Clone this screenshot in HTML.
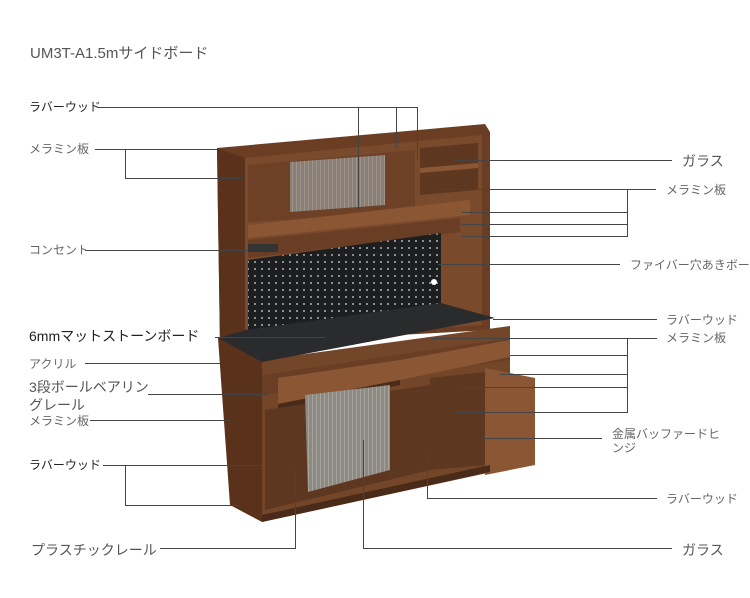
<!DOCTYPE html>
<html><head><meta charset="utf-8"><style>
body{margin:0;background:#fff;}
.w{position:relative;width:750px;height:598px;overflow:hidden;background:#fff;font-family:"Liberation Sans","Noto Sans CJK JP",sans-serif;}
.t{position:absolute;white-space:nowrap;color:#666;font-size:12px;line-height:1;}
.b{color:#222;}
.l{font-size:14px;}
</style></head><body><div class="w">
<svg width="750" height="598" style="position:absolute;left:0;top:0">
<defs>
<pattern id="peg" width="7" height="7" patternUnits="userSpaceOnUse"><rect width="7" height="7" fill="#1c1e20"/><rect x="2" y="2" width="2" height="2" fill="#8a8f92"/></pattern>
<pattern id="gl" width="4" height="4" patternUnits="userSpaceOnUse"><rect width="4" height="4" fill="#8d8a84"/><rect width="1" height="4" fill="#a6a39d"/></pattern>
</defs>
<!-- hutch -->
<polygon points="217,148 485,124 490,132 490,330 220,345" fill="#6b3e24"/>
<polygon points="217,148 245,158 245,340 220,345" fill="#5a321c"/>
<polygon points="245,158 482,135 482,325 245,340" fill="#7a4a2c"/>
<polygon points="248,165 415,150 415,212 248,222" fill="#6e4126"/>
<polygon points="290,162 385,155 385,205 290,212" fill="url(#gl)" opacity="0.85"/>
<polygon points="420,148 478,143 478,190 420,195" fill="#5e3720"/>
<polygon points="420,168 478,163 478,168 420,173" fill="#8a5634"/>
<polygon points="248,225 470,200 470,215 248,238" fill="#8a5634"/>
<polygon points="248,240 460,218 460,232 248,258" fill="#6a3e24"/>
<polygon points="248,260 441,233 441,306 248,332" fill="url(#peg)"/>
<rect x="248" y="244" width="30" height="8" fill="#333"/>
<circle cx="434" cy="282" r="3" fill="#fff"/>
<!-- lower cabinet -->
<polygon points="218,338 262,360 262,522 230,505" fill="#5a321c"/>
<polygon points="262,360 510,326 510,468 262,522" fill="#744629"/>
<!-- counter -->
<polygon points="218,338 246,330 441,303 495,318 262,362" fill="#2a2b2c"/>
<polygon points="262,375 510,338 510,360 262,395" fill="#6a3e24"/>
<polygon points="278,378 400,360 400,380 278,404" fill="#8a5634"/>
<polygon points="400,360 510,340 510,357 400,380" fill="#8a5634"/>
<polygon points="278,404 400,380 400,385 278,410" fill="#4a2a18"/>
<polygon points="265,410 430,385 430,470 265,510" fill="#5e3720"/>
<polygon points="305,395 390,385 390,470 308,492" fill="url(#gl)"/>
<polygon points="430,378 485,372 485,465 430,470" fill="#5e3720"/>
<polygon points="485,368 535,378 535,465 485,475" fill="#8a5634"/>
<polygon points="262,515 490,465 490,472 262,522" fill="#4a2a18"/>
<g stroke="#444" stroke-width="1" fill="none">
<polyline points="98,107.5 417,107.5"/>
<line x1="358.5" y1="107" x2="358.5" y2="210"/>
<line x1="396.5" y1="107" x2="396.5" y2="148"/>
<line x1="417.5" y1="107" x2="417.5" y2="160"/>
<polyline points="95,149.5 217,149.5"/>
<polyline points="125.5,150 125.5,178.5 243,178.5"/>
<line x1="455" y1="160.5" x2="672" y2="160.5"/>
<line x1="435" y1="189.5" x2="656" y2="189.5"/>
<line x1="462" y1="212.5" x2="627" y2="212.5"/>
<line x1="462" y1="224.5" x2="627" y2="224.5"/>
<line x1="462" y1="236.5" x2="627" y2="236.5"/>
<line x1="627.5" y1="189" x2="627.5" y2="237"/>
<line x1="85" y1="250.5" x2="248" y2="250.5"/>
<line x1="438" y1="264.5" x2="620" y2="264.5"/>
<line x1="215" y1="337.5" x2="325" y2="337.5"/>
<line x1="493" y1="319.5" x2="657" y2="319.5"/>
<line x1="432" y1="338.5" x2="657" y2="338.5"/>
<line x1="627.5" y1="338" x2="627.5" y2="413"/>
<line x1="510" y1="355.5" x2="627" y2="355.5"/>
<line x1="500" y1="374.5" x2="627" y2="374.5"/>
<line x1="460" y1="387.5" x2="627" y2="387.5"/>
<line x1="456" y1="412.5" x2="627" y2="412.5"/>
<line x1="85" y1="363.5" x2="220" y2="363.5"/>
<line x1="148" y1="394.5" x2="268" y2="394.5"/>
<line x1="90" y1="420.5" x2="230" y2="420.5"/>
<line x1="103" y1="465.5" x2="262" y2="465.5"/>
<polyline points="125.5,466 125.5,505.5 240,505.5"/>
<line x1="483" y1="438.5" x2="602" y2="438.5"/>
<polyline points="427.5,452 427.5,498.5 657,498.5"/>
<polyline points="160,548.5 295.5,548.5 295.5,467"/>
<polyline points="363.5,440 363.5,548.5 672,548.5"/>
</g>
</svg>
<div class="t" style="left:30px;top:46px;font-size:15px;color:#555">UM3T-A1.5mサイドボード</div>
<div class="t b" style="left:29px;top:101px">ラバーウッド</div>
<div class="t" style="left:29px;top:143px">メラミン板</div>
<div class="t" style="left:29px;top:244px">コンセント</div>
<div class="t b l" style="left:29px;top:329px">6mmマットストーンボード</div>
<div class="t" style="left:29px;top:358px">アクリル</div>
<div class="t l" style="left:29px;top:380px;color:#555">3段ボールベアリン</div>
<div class="t l" style="left:29px;top:398px;color:#555">グレール</div>
<div class="t" style="left:29px;top:415px">メラミン板</div>
<div class="t b" style="left:29px;top:459px">ラバーウッド</div>
<div class="t l" style="left:31px;top:543px;color:#555">プラスチックレール</div>
<div class="t l" style="left:682px;top:154px;color:#555">ガラス</div>
<div class="t" style="left:666px;top:184px">メラミン板</div>
<div class="t" style="left:630px;top:259px">ファイバー穴あきボード</div>
<div class="t" style="left:666px;top:314px">ラバーウッド</div>
<div class="t" style="left:666px;top:332px">メラミン板</div>
<div class="t" style="left:612px;top:428px">金属バッファードヒ</div>
<div class="t" style="left:612px;top:442px">ンジ</div>
<div class="t" style="left:666px;top:493px">ラバーウッド</div>
<div class="t l" style="left:682px;top:543px;color:#555">ガラス</div>
</div></body></html>
